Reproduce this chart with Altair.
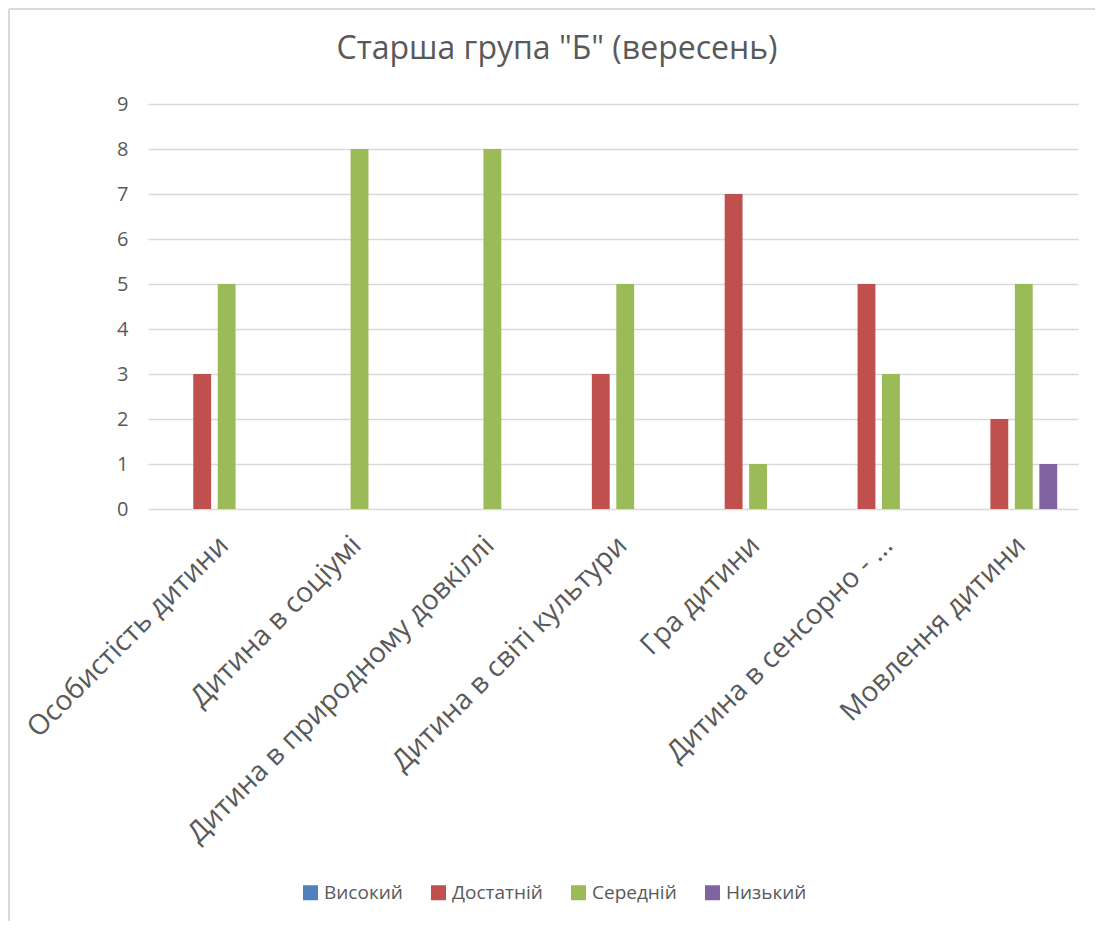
import altair as alt
import pandas as pd

categories = [
    "Особистість дитини",
    "Дитина в соціумі",
    "Дитина в природному довкіллі",
    "Дитина в світі культури",
    "Гра дитини",
    "Дитина в сенсорно - ...",
    "Мовлення дитини",
]
series = ["Високий", "Достатній", "Середній", "Низький"]
colors = ["#4F81BD", "#C0504D", "#9BBB59", "#8064A2"]

vysokyi = [0, 0, 0, 0, 0, 0, 0]
dostatnii = [3, 0, 0, 3, 7, 5, 2]
serednii = [5, 8, 8, 5, 1, 3, 5]
nyzkyi = [0, 0, 0, 0, 0, 0, 1]

y_ticks = [0, 1, 2, 3, 4, 5, 6, 7, 8, 9]

rows = []
for s, vals in zip(series, [vysokyi, dostatnii, serednii, nyzkyi]):
    for c, v in zip(categories, vals):
        rows.append({"cat": c, "series": s, "value": v})
df = pd.DataFrame(rows)

FONT = "Open Sans"
GREY = "#595959"

bars = alt.Chart(df).mark_bar(stroke=None).encode(
    x=alt.X(
        "cat:N",
        sort=categories,
        title=None,
        scale=alt.Scale(paddingInner=0, paddingOuter=0),
        axis=alt.Axis(
            labelAngle=-45,
            labelAlign="right",
            labelBaseline="top",
            labelFontSize=28,
            labelFont=FONT,
            labelColor=GREY,
            labelPadding=22,
            labelLimit=1000,
            ticks=False,
            domain=False,
            grid=False,
        ),
    ),
    xOffset=alt.XOffset(
        "series:N", sort=series,
        scale=alt.Scale(paddingInner=0.27, paddingOuter=0.85),
    ),
    y=alt.Y(
        "value:Q",
        title=None,
        scale=alt.Scale(domain=[0, 9], nice=False),
        axis=alt.Axis(
            values=y_ticks,
            labelFontSize=20,
            labelFont=FONT,
            labelColor=GREY,
            labelPadding=20,
            ticks=False,
            domain=False,
            gridColor="#d9d9d9",
            gridWidth=1.5,
        ),
    ),
    color=alt.Color(
        "series:N",
        sort=series,
        scale=alt.Scale(domain=series, range=colors),
        legend=alt.Legend(
            title=None,
            orient="none",
            legendX=153,
            legendY=779,
            direction="horizontal",
            columns=4,
            symbolType="square",
            symbolSize=225,
            symbolStrokeWidth=0,
            labelFontSize=19,
            labelFont=FONT,
            labelColor=GREY,
            labelOffset=4,
            columnPadding=26,
        ),
    ),
)

frame = pd.DataFrame({"a": [0]})
border_top = alt.Chart(frame).mark_rule(color="#d9d9d9", strokeWidth=2, clip=False).encode(
    x=alt.value(-139), x2=alt.value(1200), y=alt.value(-95)
)
border_left = alt.Chart(frame).mark_rule(color="#d9d9d9", strokeWidth=2, clip=False).encode(
    x=alt.value(-139), y=alt.value(-95), y2=alt.value(1200)
)

chart = alt.layer(border_top, border_left, bars).properties(
    width=930,
    height=405,
    padding={"left": 140, "top": 96, "right": 17, "bottom": 412},
    autosize=alt.AutoSizeParams(type="none"),
    title=alt.TitleParams(
        text='Старша група "Б" (вересень)',
        fontSize=32,
        font=FONT,
        fontWeight="normal",
        color=GREY,
        anchor="middle",
        dx=-56,
        baseline="bottom",
        offset=-90,
    ),
).configure_view(stroke=None)

chart.save("out.html", embed_options={"renderer": "svg", "actions": False})
